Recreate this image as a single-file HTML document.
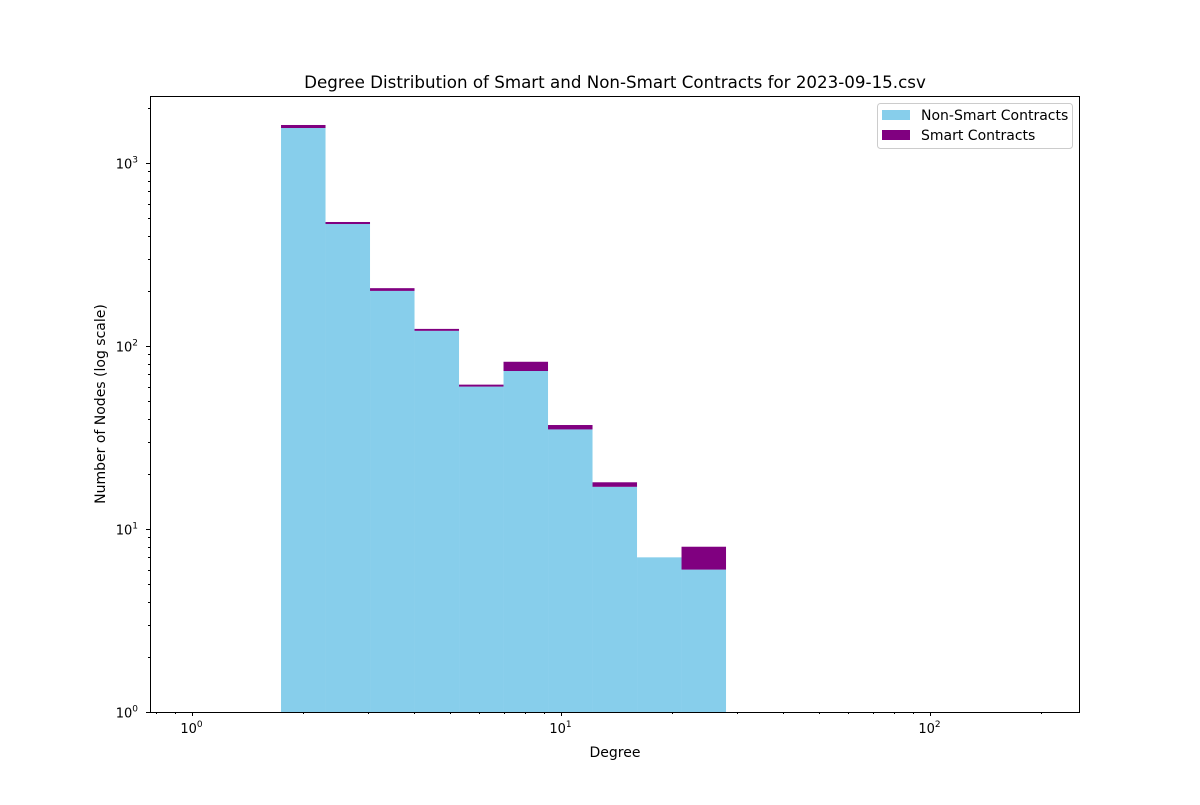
<!DOCTYPE html>
<html><head><meta charset="utf-8"><style>
body{margin:0;background:#fff;font-family:"Liberation Sans","DejaVu Sans",sans-serif;}
svg text{font-family:"DejaVu Sans","Liberation Sans",sans-serif;}
</style></head><body>
<svg id="chart" width="1200" height="800" xmlns="http://www.w3.org/2000/svg">
<rect width="1200" height="800" fill="#fff"/>
<text x="615" y="88" font-size="16.7" text-anchor="middle">Degree Distribution of Smart and Non-Smart Contracts for 2023-09-15.csv</text>
<g id="bars"></g>
<g id="axes"></g>
<rect x="150.5" y="96.5" width="929" height="616" fill="none" stroke="#000" stroke-width="1"/>
<text x="615" y="757" font-size="14" text-anchor="middle">Degree</text>
<text transform="translate(105,404) rotate(-90)" font-size="14" text-anchor="middle">Number of Nodes (log scale)</text>
<g>
<rect x="877.5" y="103.5" width="195" height="45" rx="3" fill="#fff" stroke="#ccc"/>
<g><rect x="882" y="110" width="28" height="10" fill="#87ceeb"/><text x="921" y="120" font-size="14">Non-Smart Contracts</text></g>
<g><rect x="882" y="130" width="28" height="10" fill="#800080"/><text x="921" y="140" font-size="14">Smart Contracts</text></g>
</g>
</svg>
<script>
const binStart = 1.742;
const binEnd = 28;
const nonSmart = [1553, 464, 200, 121, 60, 73, 35, 17, 7, 6];
const smart = [60, 12, 7, 3, 1.5, 9, 2, 1, 0, 2];
const xTicks = [1, 10, 100];
const yTicks = [1, 10, 100, 1000];
const xMin = 0.769, xMax = 255, yMin = 1, yMax = 2323;
const L = 150, R = 1080, T = 96, B = 712;
const NS = "http://www.w3.org/2000/svg";
function xs(v){return L + (Math.log10(v)-Math.log10(xMin))/(Math.log10(xMax)-Math.log10(xMin))*(R-L);}
function ys(v){return B - (Math.log10(v)-Math.log10(yMin))/(Math.log10(yMax)-Math.log10(yMin))*(B-T);}
function mk(tag, attrs, parent){const e=document.createElementNS(NS,tag);for(const k in attrs)e.setAttribute(k,attrs[k]);parent.appendChild(e);return e;}
const bars=document.getElementById('bars'), axes=document.getElementById('axes');
const n=nonSmart.length, step=(Math.log10(binEnd)-Math.log10(binStart))/n;
for(let i=0;i<n;i++){
  const x0=xs(Math.pow(10,Math.log10(binStart)+i*step)), x1=xs(Math.pow(10,Math.log10(binStart)+(i+1)*step));
  const yb=ys(nonSmart[i]);
  const r=mk('rect',{x:x0,y:yb,width:x1-x0,height:B-yb,fill:'#87ceeb'},bars);
  
  
  if(smart[i]>0){
    const yt=ys(nonSmart[i]+smart[i]);
    const s=mk('rect',{x:x0,y:yt,width:x1-x0,height:yb-yt,fill:'#800080'},bars);
    
    
  }
}
function sup(g,x,y,anchor,e){
  const t=mk('text',{x:x,y:y,'font-size':13,'text-anchor':anchor},g);
  t.appendChild(document.createTextNode('10'));
  const s=mk('tspan',{dy:-6,'font-size':9},t);s.textContent=e;
  return t;
}
xTicks.forEach(v=>{
  const x=Math.round(xs(v))+0.5;
  mk('line',{x1:x,x2:x,y1:B,y2:B+4,stroke:'#000'},axes);
  const t=sup(axes,x-1,B+21,'middle',String(Math.round(Math.log10(v))));
  
  
});
for(let d=-1;d<3;d++)for(let m=2;m<10;m++){const v=m*Math.pow(10,d);if(v<xMin||v>xMax)continue;const x=Math.round(xs(v))+0.5;mk('line',{x1:x,x2:x,y1:B,y2:B+2,stroke:'#000'},axes);}
yTicks.forEach(v=>{
  const y=Math.round(ys(v))+0.5;
  mk('line',{x1:L-4,x2:L,y1:y,y2:y,stroke:'#000'},axes);
  const t=sup(axes,L-12,y+5,'end',String(Math.round(Math.log10(v))));
  
  
});
for(let d=0;d<4;d++)for(let m=2;m<10;m++){const v=m*Math.pow(10,d);if(v>yMax)continue;const y=Math.round(ys(v))+0.5;mk('line',{x1:L-2,x2:L,y1:y,y2:y,stroke:'#000'},axes);}
</script>
</body></html>
